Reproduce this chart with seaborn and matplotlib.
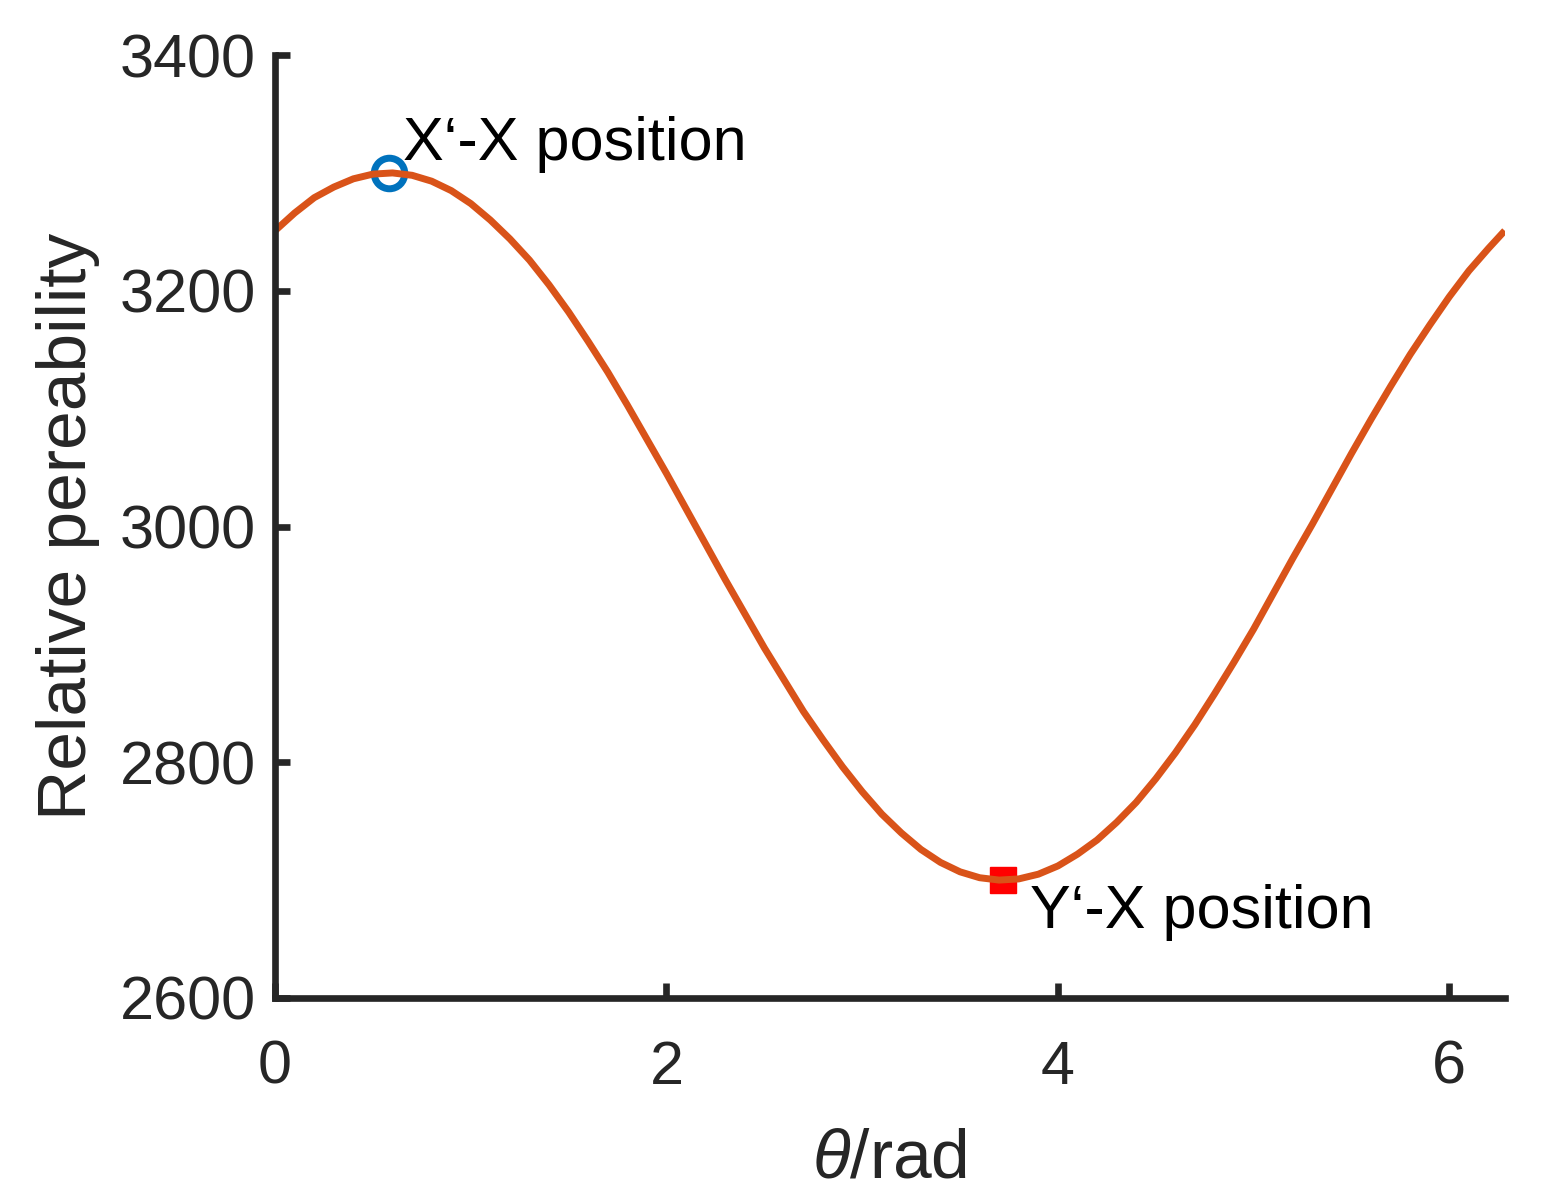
import numpy as np
import matplotlib
matplotlib.use("Agg")
import matplotlib.pyplot as plt
import seaborn as sns

# ==========================================
# Data
# ==========================================

theta = [0.0, 0.1, 0.2, 0.3, 0.4, 0.5, 0.6, 0.7, 0.8, 0.9,
         1.0, 1.1, 1.2, 1.3, 1.4, 1.5, 1.6, 1.7, 1.8, 1.9,
         2.0, 2.1, 2.2, 2.3, 2.4, 2.5, 2.6, 2.7, 2.8, 2.9,
         3.0, 3.1, 3.2, 3.3, 3.4, 3.5, 3.6, 3.7, 3.8, 3.9,
         4.0, 4.1, 4.2, 4.3, 4.4, 4.5, 4.6, 4.7, 4.8, 4.9,
         5.0, 5.1, 5.2, 5.3, 5.4, 5.5, 5.6, 5.7, 5.8, 5.9,
         6.0, 6.1, 6.2, 6.283]
permeability = [3251, 3266, 3279, 3288, 3295, 3299, 3300, 3298, 3293, 3285,
                3274, 3260, 3244, 3226, 3205, 3182, 3157, 3131, 3103, 3074,
                3045, 3015, 2985, 2955, 2926, 2897, 2870, 2843, 2819, 2796,
                2775, 2756, 2740, 2726, 2715, 2707, 2702, 2700, 2701, 2705,
                2712, 2722, 2734, 2749, 2766, 2786, 2808, 2832, 2858, 2885,
                2913, 2943, 2973, 3002, 3032, 3062, 3091, 3119, 3146, 3171,
                3195, 3217, 3236, 3251]

max_point = (0.58, 3300)
min_point = (3.72, 2700)

x_ticks = [0, 2, 4, 6]
y_ticks = [2600, 2800, 3000, 3200, 3400]

# ==========================================
# Style
# ==========================================

sns.set_theme(style="ticks")
plt.rcParams['font.family'] = ['Liberation Sans', 'DejaVu Sans']
plt.rcParams['mathtext.fontset'] = 'custom'
plt.rcParams['mathtext.it'] = 'Liberation Sans:italic'
plt.rcParams['mathtext.rm'] = 'Liberation Sans'

axis_color = '#262626'

fig = plt.figure(figsize=(15.41, 11.92), dpi=100)
ax = fig.add_axes([0.1785, 0.1628, 0.798, 0.791])

# markers first, line drawn over them
ax.plot(*max_point, marker='o', markersize=22, markerfacecolor='none',
        markeredgecolor='#0072BD', markeredgewidth=5, linestyle='none')
ax.plot(*min_point, marker='s', markersize=19, color='#FF0000',
        linestyle='none')

sns.lineplot(x=theta, y=permeability, ax=ax, color='#D95319',
             linewidth=5, sort=False, solid_joinstyle='round',
             solid_capstyle='butt')

ax.text(0.655, 3311, "X\u2018-X position", fontsize=44, color='black')
ax.text(3.856, 2659, "Y\u2018-X position", fontsize=44, color='black')

ax.set_xlim(0, 2 * np.pi)
ax.set_ylim(2600, 3400)
ax.set_xticks(x_ticks)
ax.set_yticks(y_ticks)

ax.set_xlabel(r"$\theta$/rad", fontsize=50, color=axis_color, labelpad=22)
ax.set_ylabel("Relative pereability", fontsize=50, color=axis_color, labelpad=14)

for side in ['top', 'right']:
    ax.spines[side].set_visible(False)
for side in ['left', 'bottom']:
    ax.spines[side].set_linewidth(4.8)
    ax.spines[side].set_color(axis_color)

ax.tick_params(axis='both', direction='in', length=11, width=4.8,
               colors=axis_color, labelsize=44)
ax.tick_params(axis='x', pad=30)
ax.tick_params(axis='y', pad=14)

fig.savefig("out.png", dpi=100)
